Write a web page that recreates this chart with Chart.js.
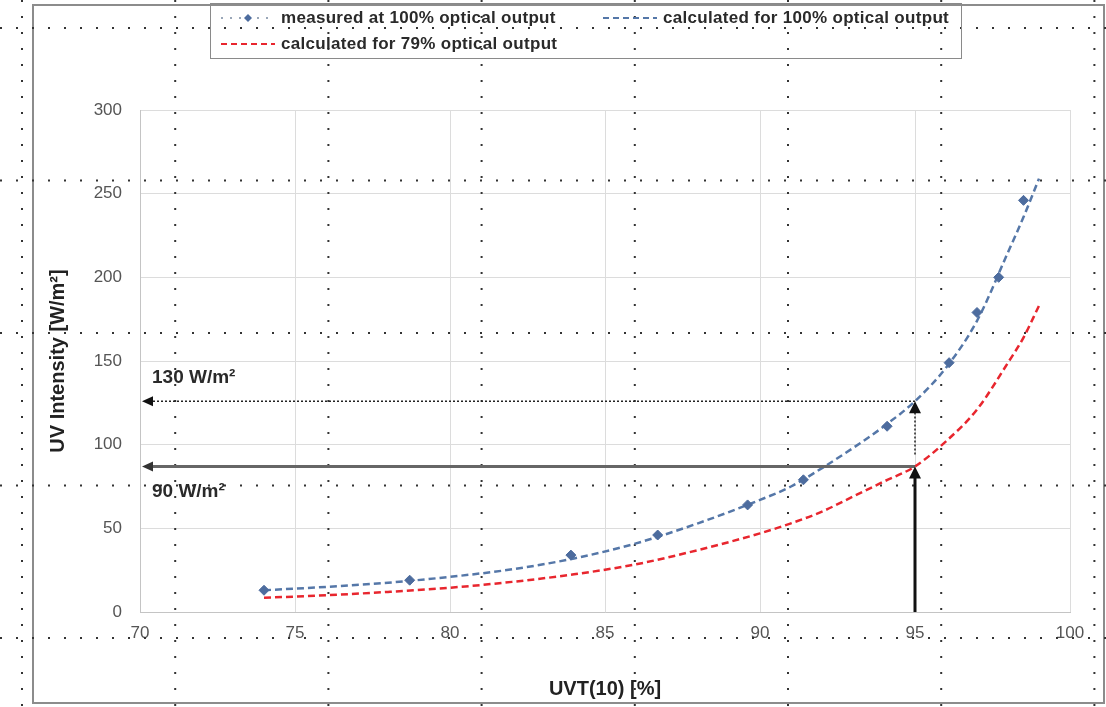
<!DOCTYPE html>
<html>
<head>
<meta charset="utf-8">
<title>UV intensity vs UVT</title>
<script src="https://cdn.jsdelivr.net/npm/chart.js"></script>
<style>
  body { margin: 0; background: #fff; font-family: "Liberation Sans", Arial, sans-serif; }
  #wrap { position: relative; width: 1106px; height: 707px; }
  #legend {
    position: absolute; left: 210px; top: 3px; width: 752px; height: 56px;
    border: 1px solid #8a8a8a; box-sizing: border-box; font-size: 17px; font-weight: bold; color: #2a2a2a;
  }
  .item { position: absolute; display: flex; align-items: center; white-space: nowrap; letter-spacing: 0.3px; }
  .item canvas { margin-right: 4px; }
</style>
</head>
<body>
<div id="wrap">
  <canvas id="myChart" width="1106" height="707"></canvas>
  <div id="legend"></div>
</div>
<script>
// Setup
const curveUvt = [74, 76, 78, 80, 82, 84, 86, 88, 90, 91, 92, 93, 94, 95, 96, 97, 98, 98.5, 99];
const calc100 = [13, 15, 17.5, 21, 25.5, 32, 41, 53, 67, 75, 86, 98, 111, 126, 146, 174, 215, 236, 259];
const calc79 = [8.5, 10, 12, 14.5, 18, 22.5, 28.5, 37, 47, 53, 60, 69, 78, 87, 102, 121, 149, 164, 183];

const measuredUvt = [74.0, 78.7, 83.9, 86.7, 89.6, 91.4, 94.1, 96.1, 97.0, 97.7, 98.5];
const measured = [13, 19, 34, 46, 64, 79, 111, 149, 179, 200, 246];

// reading arrows at UVT 95 %
const refUvt = 95;
const refLevels = [126, 87];
const refLabels = ['130 W/m²', '90 W/m²'];

const seriesNames = [
  'measured at 100% optical output',
  'calculated for 100% optical output',
  'calculated for 79% optical output',
];

const blue = '#5577a8';
const red = '#e8262e';

const toXY = (xs, ys) => xs.map((v, i) => ({ x: v, y: ys[i] }));

const data = {
  datasets: [{
    label: seriesNames[0],
    data: toXY(measuredUvt, measured),
    showLine: false,
    pointStyle: 'rectRot',
    pointRadius: 5,
    backgroundColor: '#4d6c9e',
    borderColor: '#4d6c9e',
    order: 0
  }, {
    label: seriesNames[1],
    data: toXY(curveUvt, calc100),
    showLine: true,
    borderColor: blue,
    borderWidth: 2.5,
    borderDash: [7, 4],
    pointRadius: 0,
    cubicInterpolationMode: 'monotone',
    order: 1
  }, {
    label: seriesNames[2],
    data: toXY(curveUvt, calc79),
    showLine: true,
    borderColor: red,
    borderWidth: 2.5,
    borderDash: [7, 4],
    pointRadius: 0,
    cubicInterpolationMode: 'monotone',
    order: 2
  }]
};

// dotted page break lines + outer frame
const backdrop = {
  id: 'backdrop',
  beforeDatasetsDraw(chart) {
    const ctx = chart.ctx;
    ctx.save();
    ctx.strokeStyle = '#8c8c8c';
    ctx.lineWidth = 2;
    ctx.strokeRect(33, 5, 1071, 698);
    ctx.strokeStyle = '#333';
    ctx.lineWidth = 2;
    ctx.setLineDash([2, 14]);
    for (let px = 22; px < 1106; px += 153.2) {
      ctx.beginPath(); ctx.moveTo(px, 0); ctx.lineTo(px, 707); ctx.stroke();
    }
    for (let py = 28; py < 707; py += 152.5) {
      ctx.beginPath(); ctx.moveTo(0, py); ctx.lineTo(1106, py); ctx.stroke();
    }
    ctx.restore();
  }
};

function arrowHead(ctx, x, y, dir) {
  ctx.beginPath();
  if (dir === 'left') {
    ctx.moveTo(x, y); ctx.lineTo(x + 11, y - 5); ctx.lineTo(x + 11, y + 5);
  } else {
    ctx.moveTo(x, y); ctx.lineTo(x - 6, y + 12); ctx.lineTo(x + 6, y + 12);
  }
  ctx.closePath();
  ctx.fill();
}

const readings = {
  id: 'readings',
  afterDatasetsDraw(chart) {
    const { ctx, scales: { x, y } } = chart;
    const px = x.getPixelForValue(refUvt);
    const yHi = y.getPixelForValue(refLevels[0]);
    const yLo = y.getPixelForValue(refLevels[1]);
    const y0 = y.getPixelForValue(0);
    ctx.save();
    ctx.fillStyle = '#111';
    // dotted 100% reading
    ctx.strokeStyle = '#222';
    ctx.lineWidth = 1.5;
    ctx.setLineDash([2, 2]);
    ctx.beginPath(); ctx.moveTo(px, yHi); ctx.lineTo(x.left + 8, yHi); ctx.stroke();
    ctx.beginPath(); ctx.moveTo(px, yLo - 12); ctx.lineTo(px, yHi + 8); ctx.stroke();
    ctx.setLineDash([]);
    arrowHead(ctx, x.left + 2, yHi, 'left');
    arrowHead(ctx, px, yHi, 'up');
    // solid 79% reading
    ctx.strokeStyle = '#666';
    ctx.lineWidth = 3;
    ctx.beginPath(); ctx.moveTo(px, yLo); ctx.lineTo(x.left + 8, yLo); ctx.stroke();
    ctx.fillStyle = '#333';
    arrowHead(ctx, x.left + 2, yLo, 'left');
    ctx.strokeStyle = '#111';
    ctx.beginPath(); ctx.moveTo(px, y0); ctx.lineTo(px, yLo + 8); ctx.stroke();
    ctx.fillStyle = '#111';
    arrowHead(ctx, px, yLo, 'up');
    // labels
    ctx.font = 'bold 19px "Liberation Sans", Arial, sans-serif';
    ctx.fillStyle = '#2a2a2a';
    ctx.textBaseline = 'middle';
    ctx.fillText(refLabels[0], x.left + 12, yHi - 23);
    ctx.fillText(refLabels[1], x.left + 12, yLo + 25);
    ctx.restore();
  }
};

// Config
const config = {
  type: 'scatter',
  data: data,
  options: {
    responsive: false,
    animation: false,
    layout: { padding: { left: 40, right: 36, top: 110, bottom: 0 } },
    plugins: { legend: { display: false }, tooltip: { enabled: false } },
    scales: {
      x: {
        type: 'linear', min: 70, max: 100,
        ticks: { stepSize: 5, padding: 11, color: '#555', font: { size: 17, family: 'Liberation Sans' } },
        grid: { color: '#dcdcdc', drawTicks: false },
        border: { color: '#c4c4c4' },
        title: { display: true, text: 'UVT(10) [%]', color: '#222', padding: { top: 4, bottom: 6 },
          font: { size: 20, weight: 'bold', family: 'Liberation Sans' } },
        afterFit: (s) => { s.height = 95; }
      },
      y: {
        min: 0, max: 300,
        ticks: { stepSize: 50, padding: 18, color: '#555', font: { size: 17, family: 'Liberation Sans' } },
        grid: { color: '#dcdcdc', drawTicks: false },
        border: { color: '#c4c4c4' },
        title: { display: true, text: 'UV Intensity [W/m²]', color: '#222', padding: { top: 6, bottom: 4 },
          font: { size: 20, weight: 'bold', family: 'Liberation Sans' } },
        afterFit: (s) => { s.width = 100; }
      }
    }
  },
  plugins: [backdrop, readings]
};

const myChart = new Chart(document.getElementById('myChart'), config);

// legend, laid out like the original two rows
const legendPos = [[8, 4], [390, 4], [8, 30]];
const legendEl = document.getElementById('legend');
seriesNames.forEach((name, i) => {
  const item = document.createElement('div');
  item.className = 'item';
  item.style.left = legendPos[i][0] + 'px';
  item.style.top = legendPos[i][1] + 'px';
  const c = document.createElement('canvas');
  c.width = 58; c.height = 18;
  const g = c.getContext('2d');
  g.lineWidth = 2;
  g.setLineDash(i === 0 ? [2, 7] : [6, 4]);
  g.strokeStyle = i === 2 ? red : (i === 0 ? '#9aa7b8' : blue);
  g.beginPath(); g.moveTo(2, 9); g.lineTo(56, 9); g.stroke();
  if (i === 0) {
    g.fillStyle = '#4d6c9e';
    g.beginPath(); g.moveTo(29, 5); g.lineTo(33, 9); g.lineTo(29, 13); g.lineTo(25, 9); g.closePath(); g.fill();
  }
  item.appendChild(c);
  const t = document.createElement('span');
  t.textContent = name;
  item.appendChild(t);
  legendEl.appendChild(item);
});
</script>
</body>
</html>
